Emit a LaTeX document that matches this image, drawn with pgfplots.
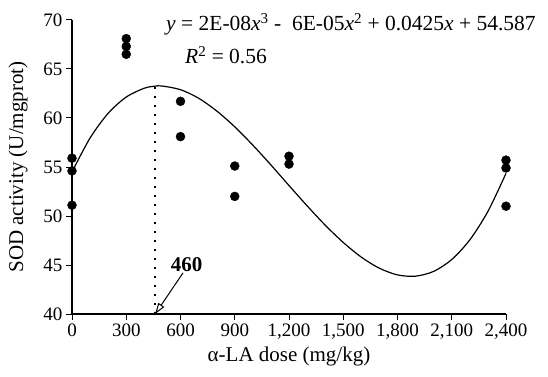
\documentclass[border=0pt]{standalone}
\usepackage{fontspec}
\setmainfont{Liberation Serif}
\usepackage{pgfplots}
\pgfplotsset{compat=1.18}
\usetikzlibrary{arrows.meta}
\begin{document}
\begin{tikzpicture}
\begin{axis}[
  at={(0,0)}, anchor=south west,
  scale only axis, width=434bp, height=294bp,
  xmin=0, xmax=2400, ymin=40, ymax=70,
  axis lines=left, axis line style={-, line width=1.2pt},
  xtick={0,300,...,2400}, ytick={40,45,...,70},
  tick style={line width=1pt, black}, major tick length=6bp,
  tick align=outside,
  /pgf/number format/assume math mode=true,
  /pgf/number format/1000 sep={,},
  ticklabel style={font=\fontsize{19bp}{22bp}\selectfont},
  xlabel={α-LA dose (mg/kg)}, ylabel={SOD activity (U/mgprot)},
  label style={font=\fontsize{21bp}{24bp}\selectfont},
  ylabel style={yshift=9bp},
  xlabel style={yshift=-1bp},
  clip=false,
]
\addplot[black, line width=1.2pt, smooth] coordinates {
(0,54.5)(100,57.96)(200,60.48)(300,62.14)(400,63.04)(460,63.25)(500,63.26)(600,62.89)
(700,62.02)(800,60.72)(900,59.10)(1000,57.23)(1100,55.21)(1200,53.11)(1300,51.04)
(1400,49.07)(1500,47.30)(1600,45.80)(1700,44.67)(1800,43.99)(1900,43.86)(2000,44.35)
(2100,45.56)(2200,47.57)(2300,50.47)(2400,54.35)};
\addplot[only marks, mark=*, mark size=4.5bp, black] coordinates {
(0,55.9)(0,54.6)(0,51.1)
(300,68.1)(300,67.3)(300,66.5)
(600,61.7)(600,58.1)
(900,55.1)(900,52.0)
(1200,56.1)(1200,55.3)
(2400,55.7)(2400,54.9)(2400,51.0)};
\addplot[black, line width=1.6bp, dash pattern=on 1.6bp off 7.4bp] coordinates {(460,40)(460,63.25)};
\draw[black, line width=1bp, -{Triangle[open, length=11bp, width=7bp]}] (axis cs:614,44.2) -- (axis cs:460,40);
\node[font=\fontsize{21bp}{24bp}\selectfont\bfseries] at (axis cs:634,45.05) {460};
\node[anchor=base west, inner sep=0pt, font=\fontsize{21.5bp}{24bp}\selectfont] at (axis cs:520,68.88)
  {\textit{y} = 2E-08\textit{x}\textsuperscript{3} -\ \ 6E-05\textit{x}\textsuperscript{2} + 0.0425\textit{x} + 54.587};
\node[anchor=base west, inner sep=0pt, font=\fontsize{21.5bp}{24bp}\selectfont] at (axis cs:625,65.51)
  {\textit{R}\textsuperscript{2} = 0.56};
\end{axis}
\pgfresetboundingbox
\path[use as bounding box] (-72bp,-63bp) rectangle (476bp,314bp);
\end{tikzpicture}
\end{document}
